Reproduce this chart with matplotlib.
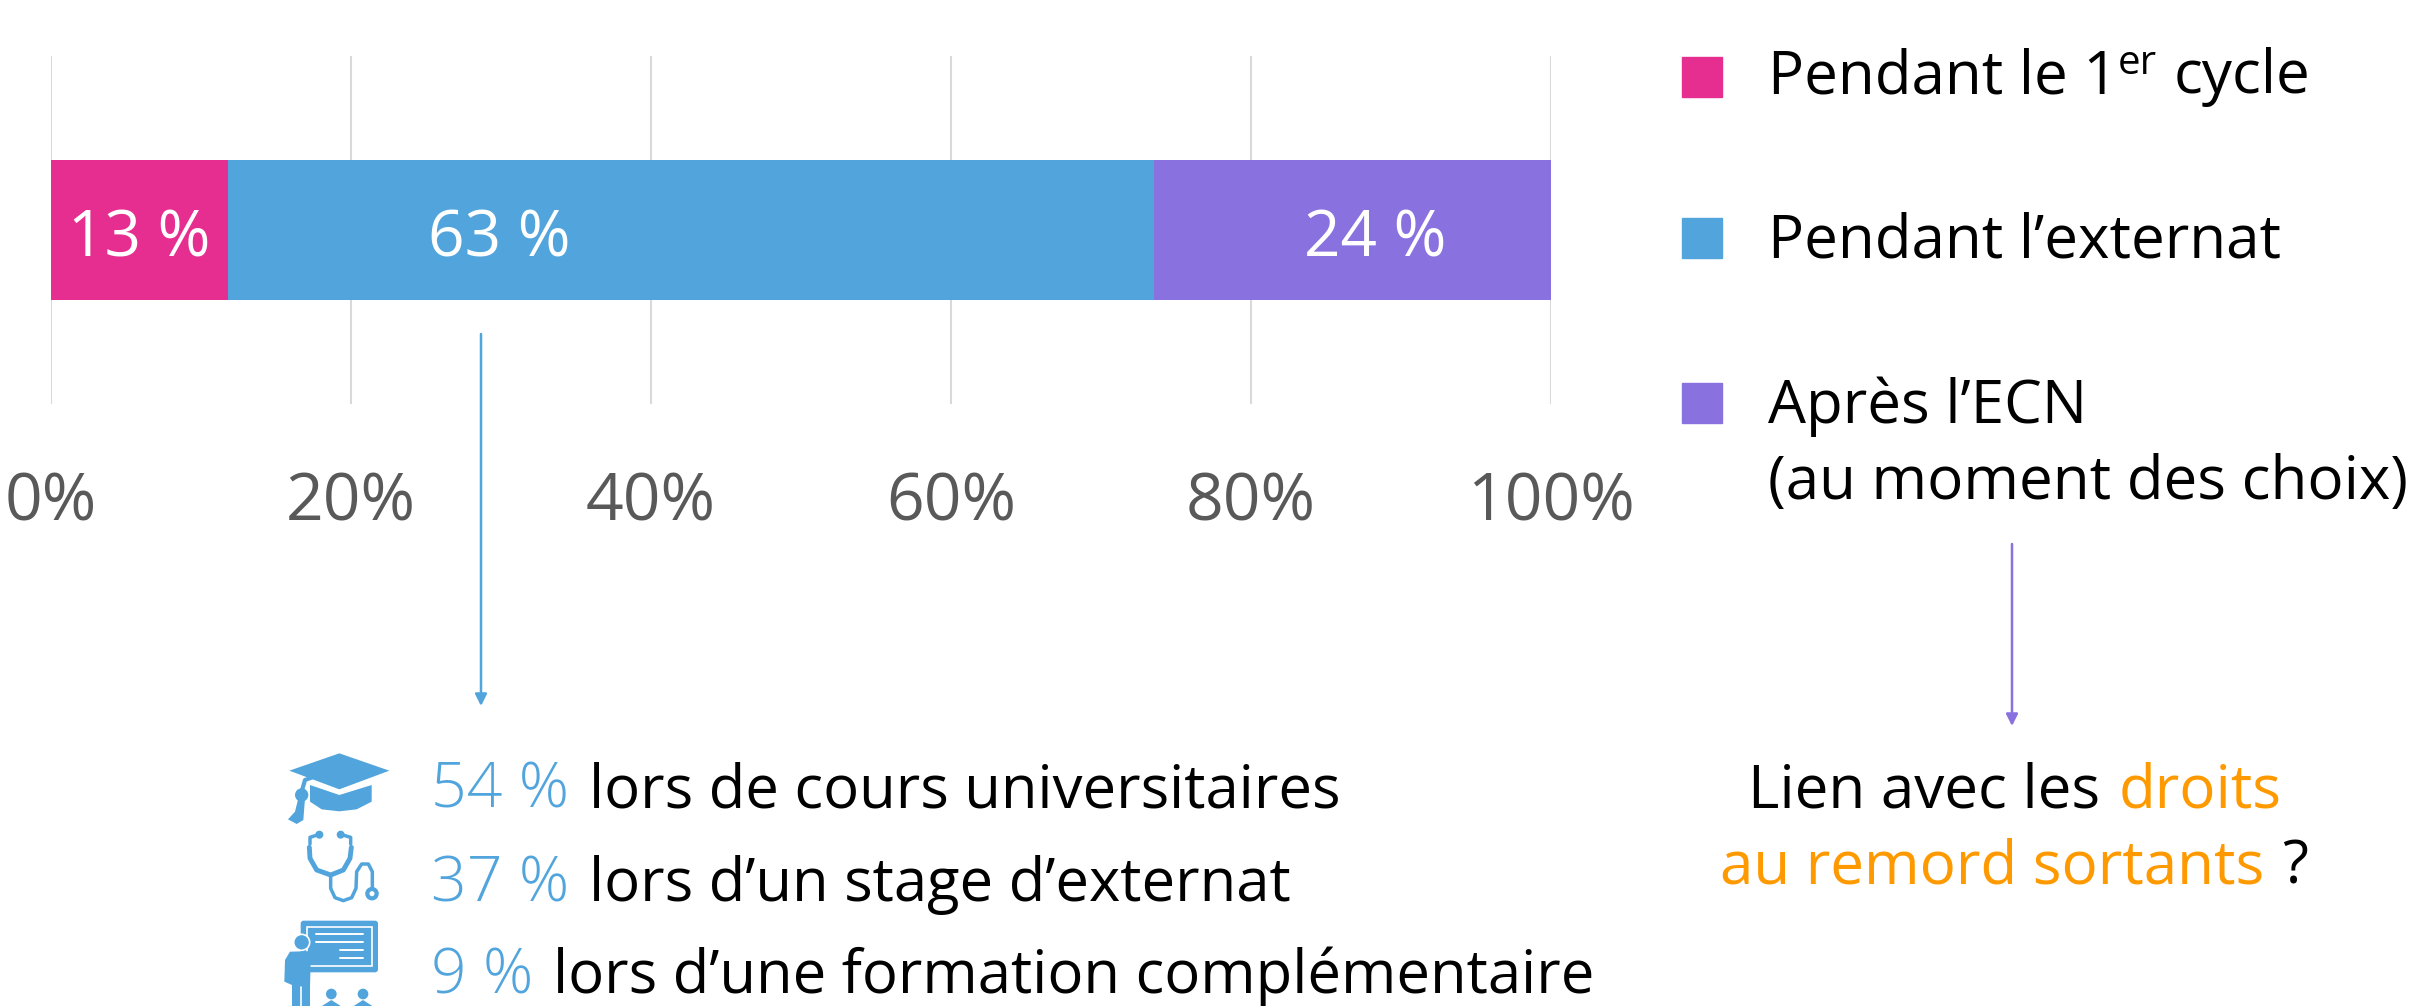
import matplotlib
matplotlib.use("Agg")
import matplotlib.pyplot as plt
import matplotlib.patches as mpatches

W, H = 2417, 1006
FONT = "Open Sans"

PINK = "#E52E8F"
BLUE = "#51A5DC"
PURPLE = "#8A71E0"
ORANGE = "#FF9900"
GREY = "#595959"

# widths as drawn in the picture (they differ a bit from the printed labels)
segment_widths = [11.8, 61.7, 26.5]
segment_labels = ["13 %", "63 %", "24 %"]
segment_colours = [PINK, BLUE, PURPLE]
label_centres = [5.9, 29.9, 88.3]

tick_values = [0, 20, 40, 60, 80, 100]
tick_labels = ["0%", "20%", "40%", "60%", "80%", "100%"]

detail_pcts = ["54 %", "37 %", "9 %"]
detail_texts = ["lors de cours universitaires",
                "lors d\u2019un stage d\u2019externat",
                "lors d\u2019une formation complémentaire"]

plt.rcParams["font.family"] = [FONT, "DejaVu Sans"]
fig = plt.figure(figsize=(W / 100, H / 100), dpi=100)

# chart axes: 0 % at x=51, 100 % at x=1551
ax = fig.add_axes([51 / W, 1 - 404 / H, 1500 / W, 348 / H])
left = 0
for width, colour in zip(segment_widths, segment_colours):
    ax.barh(0, width, left=left, height=0.4, color=colour, zorder=3)
    left += width
for label, centre in zip(segment_labels, label_centres):
    ax.text(centre, -0.006, label, color="white", fontsize=46, ha="center",
            va="center_baseline", zorder=4)

ax.set_xlim(0, 100)
ax.set_ylim(-0.5, 0.5)
ax.set_yticks([])
ax.set_xticks(tick_values)
ax.set_xticklabels(tick_labels, fontsize=47.5, color=GREY)
ax.tick_params(axis="x", length=0, pad=48)
ax.grid(axis="x", color="#D9D9D9", linewidth=1.5, zorder=0)
ax.spines[:].set_visible(False)

# overlay in pixel coordinates of the image for everything outside the chart
ov = fig.add_axes([0, 0, 1, 1], zorder=5)
ov.set_xlim(0, W)
ov.set_ylim(H, 0)
ov.axis("off")
ov.patch.set_alpha(0)


def text_runs(x, y, runs, centre=False, space=20):
    """Draw (text, colour, weight, size) runs one after the other on one baseline."""
    renderer = fig.canvas.get_renderer()
    items = [ov.text(x, y, t, color=c, fontsize=fs, va="baseline", fontweight=w)
             for t, c, w, fs in runs]
    widths = [i.get_window_extent(renderer).width for i in items]
    total = sum(widths) + space * (len(items) - 1)
    cur = x - total / 2 if centre else x
    for item, w in zip(items, widths):
        item.set_x(cur)
        cur += w + space


# legend
LEG_FS = 43.3
ov.add_patch(mpatches.Rectangle((1682, 57), 40, 40, color=PINK))
ov.add_patch(mpatches.Rectangle((1682, 218), 40, 40, color=BLUE))
ov.add_patch(mpatches.Rectangle((1682, 383), 40, 40, color=PURPLE))

t = ov.text(1768, 93, "Pendant le 1", fontsize=LEG_FS, color="black", va="baseline")
ext = t.get_window_extent(fig.canvas.get_renderer())
s = ov.text(ext.x1, 74, "er", fontsize=29, color="black", va="baseline")
ext = s.get_window_extent(fig.canvas.get_renderer())
ov.text(ext.x1 + 17, 93, "cycle", fontsize=LEG_FS, color="black", va="baseline")
ov.text(1768, 257, "Pendant l\u2019externat", fontsize=LEG_FS, color="black", va="baseline")
ov.text(1768, 423, "Après l\u2019ECN", fontsize=LEG_FS, color="black", va="baseline")
ov.text(1768, 499, "(au moment des choix)", fontsize=LEG_FS, color="black", va="baseline")

# arrows
ov.annotate("", xy=(481, 706), xytext=(481, 334),
            arrowprops=dict(arrowstyle="-|>,head_length=0.7,head_width=0.35", color=BLUE, lw=1.8, shrinkA=0, shrinkB=0))
ov.annotate("", xy=(2012, 726), xytext=(2012, 544),
            arrowprops=dict(arrowstyle="-|>,head_length=0.7,head_width=0.35", color=PURPLE, lw=1.8, shrinkA=0, shrinkB=0))

# detail lines under the blue arrow
for pct, txt, base in zip(detail_pcts, detail_texts, [808, 901, 993]):
    text_runs(431, base, [(pct, BLUE, "light", 45), (txt, "black", "normal", 43)], space=20)

# right hand comment
text_runs(2015, 807, [("Lien avec les", "black", "normal", 43.3), ("droits", ORANGE, "normal", 43.3)],
          centre=True, space=18)
text_runs(2014, 884, [("au remord sortants", ORANGE, "normal", 43.3), ("?", "black", "normal", 43.3)],
          centre=True, space=18)


# icons, given in crop coordinates (1/3 px, origin 260,730)
def P(x, y):
    return 260 + x / 3, 730 + y / 3


def poly(points, fc=BLUE, **kw):
    ov.add_patch(mpatches.Polygon([P(*p) for p in points], closed=True, fc=fc, ec="none", **kw))


def path_line(points, colour=BLUE, lw=2.2):
    ov.plot(*zip(*[P(*p) for p in points]), color=colour, lw=lw, solid_capstyle="round")


def circle(x, y, r, fc=BLUE, ec="none", lw=0):
    ov.add_patch(mpatches.Circle(P(x, y), r / 3, fc=fc, ec=ec, lw=lw))


# mortarboard
poly([(88, 122), (238, 70), (388, 122), (238, 178)])
poly([(150, 165), (238, 195), (335, 165), (335, 215), (290, 238), (238, 244), (185, 238), (150, 215)])
path_line([(238, 112), (135, 150), (125, 185)], lw=3)
circle(125, 195, 20)
poly([(115, 205), (135, 205), (130, 270), (110, 282), (84, 268), (105, 245)])

# stethoscope
path_line([(150, 342), (150, 322), (175, 314)], lw=2.5)
path_line([(272, 342), (272, 322), (245, 314)], lw=2.5)
circle(178, 314, 12)
circle(242, 314, 12)
path_line([(148, 352), (150, 385), (170, 420), (212, 435), (250, 420), (270, 385), (274, 352)], lw=3.5)
path_line([(212, 435), (212, 475), (225, 503), (250, 512), (275, 503), (288, 475), (290, 425),
           (305, 402), (325, 402), (337, 425), (337, 478)], lw=2.5)
circle(336, 491, 14, fc="white", ec=BLUE, lw=3)

# teacher at a board
ov.add_patch(mpatches.FancyBboxPatch(P(122, 572), 232 / 3, 155 / 3, boxstyle="round,pad=0,rounding_size=3",
                                     fc=BLUE, ec="none"))
ov.add_patch(mpatches.Rectangle(P(140, 592), 195 / 3, 115 / 3, fc="none", ec="white", lw=1.2))
for y0, x0, x1 in [(612, 168, 308), (636, 168, 308), (660, 240, 308), (684, 240, 308)]:
    path_line([(x0, y0), (x1, y0)], colour="white", lw=1.4)
circle(125, 637, 24, ec="white", lw=1.2)
poly([(75, 690), (90, 665), (215, 662), (220, 680), (205, 690), (152, 695), (150, 770), (150, 828),
      (96, 828), (96, 765), (73, 755)], )
path_line([(122, 770), (122, 828)], colour="white", lw=1.2)
for xc in (214, 309):
    circle(xc, 792, 16)
    poly([(xc - 28, 828), (xc, 810), (xc + 28, 828)])

fig.savefig("out.png", dpi=100)
